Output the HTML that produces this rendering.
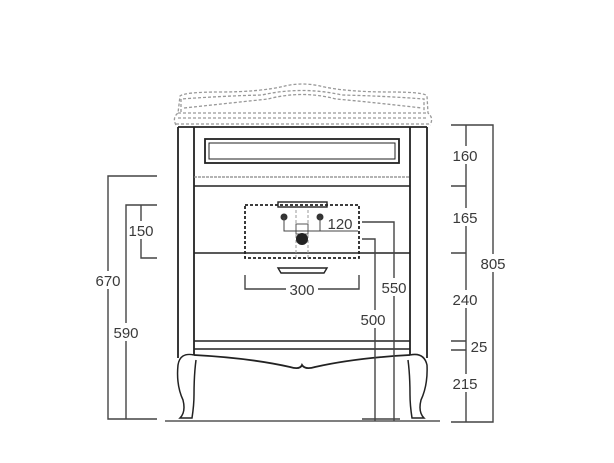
<!DOCTYPE html>
<html><head><style>
html,body{margin:0;padding:0;background:#fff;width:614px;height:463px;overflow:hidden}
text{font-family:"Liberation Sans",sans-serif;font-size:15px;fill:#3a3a3a;text-anchor:middle}
</style></head><body>
<svg width="614" height="463" viewBox="0 0 614 463" xmlns="http://www.w3.org/2000/svg">
<g fill="none" stroke="#999" stroke-width="1.3" stroke-dasharray="3,2">
<path d="M176,125 Q172,118 178,113 L180,96 Q185,92 220,92 Q260,92 285,86 Q302,82 320,86 Q345,92 390,92 Q425,92 427,96 L428,113 Q434,118 430,125"/>
<path d="M181,112 L181,99 Q222,96 262,95 Q302,86 342,95 Q385,96 424,99 L424,112"/>
<path d="M178,113 L428,113 M178,118 L428,118 M176,124 L430,124"/>
<path d="M184,108 Q240,102 268,99 Q302,90 336,99 Q370,102 422,108"/>
</g>
<g fill="none" stroke="#222" stroke-width="1.8">
<path d="M178,127 L427,127"/>
<path d="M178,127 L178,358"/>
<path d="M427,127 L427,358"/>
<path d="M194,127 L194,355 M410,127 L410,355"/>
<rect x="205" y="139" width="194" height="24"/>
<rect x="209" y="143" width="186" height="16" stroke-width="1"/>
<path d="M194,186 L410,186 M194,253 L410,253" stroke-width="1.4"/>
<path d="M194,341 L410,341 M194,349 L410,349" stroke-width="1.4"/>
<path d="M194,355 Q250,358 290,367 Q300,370 302,365 Q305,370 315,367 Q355,358 410,355"/>
<path d="M194,355 Q180,352 178,365 Q176,385 183,400 Q186,412 180,418 L192,418 Q194,405 194,395 Q194,375 196,360" stroke-width="1.5"/>
<path d="M410,355 Q424,352 427,365 Q428,385 421,400 Q418,412 424,418 L412,418 Q410,405 410,395 Q410,375 408,360" stroke-width="1.5"/>
<rect x="278" y="202" width="49" height="5" stroke-width="1.4"/>
<path d="M278,268 L327,268 L324,273 L281,273 Z" stroke-width="1.4"/>
</g>
<path d="M165,421 L440,421" stroke="#555" stroke-width="1.5"/>
<path d="M194,177 L410,177" stroke="#888" stroke-width="1.2" stroke-dasharray="3,1"/>
<rect x="245" y="205" width="114" height="53" fill="none" stroke="#222" stroke-width="1.8" stroke-dasharray="3,2"/>
<path d="M296,210 L296,260 M308,210 L308,260" stroke="#999" stroke-dasharray="3,2" fill="none"/>
<rect x="296" y="224" width="12" height="10" fill="#fff" stroke="#555"/>
<circle cx="284" cy="217" r="3.5" fill="#333"/><circle cx="320" cy="217" r="3.5" fill="#333"/>
<circle cx="302" cy="239" r="6" fill="#222"/>
<path d="M284,217 L284,231 L358,231 M320,217 L320,231" stroke="#444" fill="none"/>
<g fill="none" stroke="#444" stroke-width="1.4">
<path d="M362,222 L394,222 L394,421"/>
<path d="M362,239 L375,239 L375,421"/>
<path d="M362,419 L400,419"/>
<path d="M245,275 L245,289 L359,289 L359,275"/>
<path d="M451,125 L493,125 L493,422 L451,422 M466,125 L466,422 M451,186 L466,186 M451,253 L466,253 M451,341 L466,341 M451,350 L466,350"/>
<path d="M157,176 L108,176 L108,419 L157,419 M157,205 L126,205 L126,419 M141,205 L141,258 L157,258"/>
</g>
<g>
<rect x="452" y="146" width="28" height="18" fill="#fff"/><text x="465" y="161">160</text>
<rect x="452" y="208" width="28" height="18" fill="#fff"/><text x="465" y="223">165</text>
<rect x="479" y="254" width="28" height="18" fill="#fff"/><text x="493" y="269">805</text>
<rect x="452" y="290" width="28" height="18" fill="#fff"/><text x="465" y="305">240</text>
<text x="479" y="352">25</text>
<rect x="452" y="374" width="28" height="18" fill="#fff"/><text x="465" y="389">215</text>
<rect x="94" y="271" width="28" height="18" fill="#fff"/><text x="108" y="286">670</text>
<rect x="112" y="323" width="28" height="18" fill="#fff"/><text x="126" y="338">590</text>
<rect x="128" y="221" width="26" height="18" fill="#fff"/><text x="141" y="236">150</text>
<rect x="286" y="280" width="32" height="18" fill="#fff"/><text x="302" y="295">300</text>
<rect x="380" y="278" width="28" height="18" fill="#fff"/><text x="394" y="293">550</text>
<rect x="360" y="310" width="28" height="18" fill="#fff"/><text x="373" y="325">500</text>
<text x="340" y="229">120</text>
</g>
</svg>
</body></html>
